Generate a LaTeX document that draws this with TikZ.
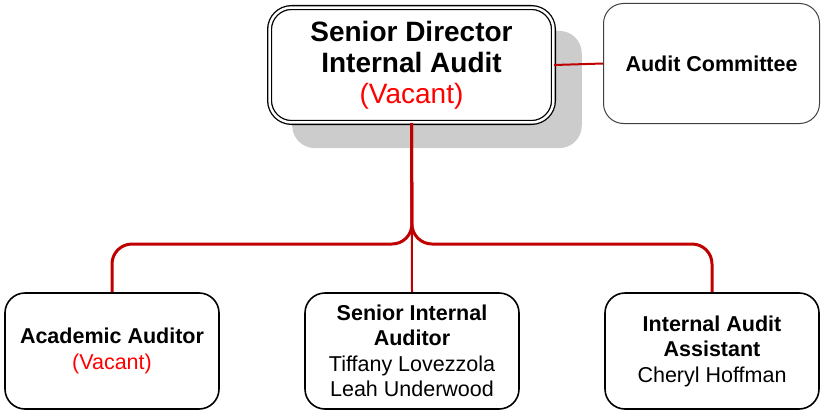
\documentclass[tikz,border=0pt]{standalone}
\usepackage{fontspec}
\setmainfont{Liberation Sans}
\usetikzlibrary{shadows}
\definecolor{linkred}{RGB}{192,0,0}
\definecolor{shadowgray}{RGB}{204,204,204}
\definecolor{vacantred}{RGB}{255,0,0}

\begin{document}
\begin{tikzpicture}[x=1pt,y=-1pt,
  box/.style={draw,rounded corners=20pt,line width=1.6pt,align=center,inner sep=0pt,
    minimum width=214pt,minimum height=116pt,font=\fontsize{21.5}{25.5}\selectfont},
  link/.style={linkred,line width=3pt,rounded corners=20pt}]
  \useasboundingbox (0,0) rectangle (821,412);

  % head of the unit
  \node[draw,double=white,double distance=2.5pt,line width=1.3pt,rounded corners=22pt,
    align=center,inner sep=0pt,minimum width=283.9pt,minimum height=114.9pt,
    font=\fontsize{28}{31}\selectfont,fill=white,
    drop shadow={shadow xshift=25pt,shadow yshift=-24pt,shadow scale=1.02,fill=shadowgray,opacity=1}]
    (dir) at (411.5,65) {\textbf{Senior Director}\\\textbf{Internal Audit}\\\textcolor{vacantred}{(Vacant)}};
  \node[box,draw=black!75,line width=1pt,minimum width=216pt,minimum height=120pt] (ac) at (711.5,63.5) {\textbf{Audit Committee}};

  % staff
  \node[box] (aa) at (112,351) {\textbf{Academic Auditor}\\[1pt]\textcolor{vacantred}{(Vacant)}};
  \node[box] (sia) at (412,351) {\textbf{Senior Internal}\\\textbf{Auditor}\\Tiffany Lovezzola\\Leah Underwood};
  \node[box] (ias) at (712,351) {\textbf{Internal Audit}\\\textbf{Assistant}\\Cheryl Hoffman};

  \coordinate (jn) at (412,244);
  \draw[link] (aa.north) |- (jn) -- (dir.south);
  \draw[link] (ias.north) |- (jn) -- (dir.south);
  \draw[linkred,line width=2pt] (dir.south) -- (sia.north);
  \draw[linkred,line width=2pt] (dir.east) -- (ac.west);
\end{tikzpicture}
\end{document}
